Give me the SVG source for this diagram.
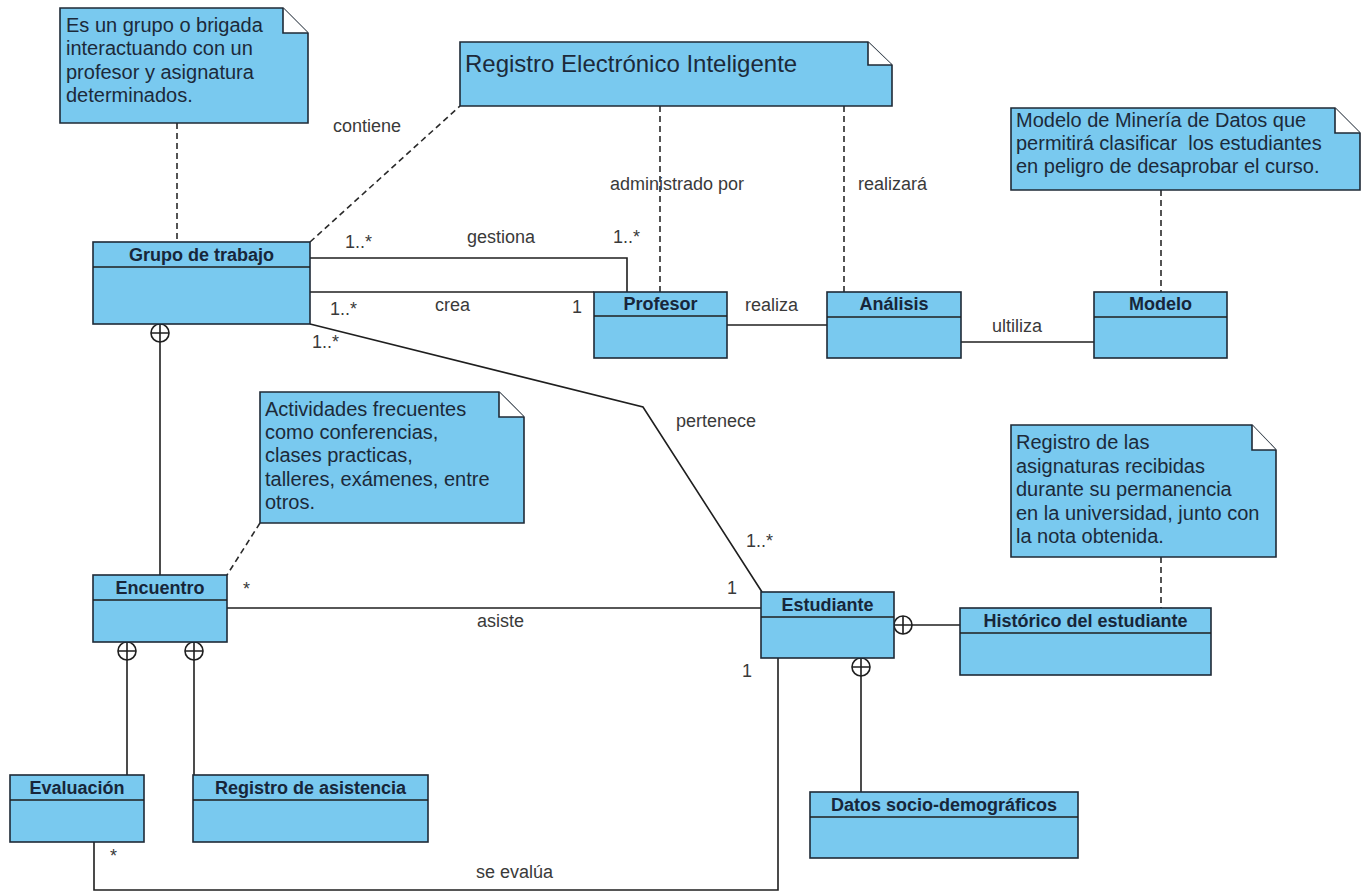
<svg xmlns="http://www.w3.org/2000/svg" width="1367" height="892" viewBox="0 0 1367 892">
<style>
.cls{fill:#79c9ef;stroke:#1f2a36;stroke-width:1.6}
.note{fill:#79c9ef;stroke:#1f2a36;stroke-width:1.6}
.fold{fill:#ffffff;stroke:#1f2a36;stroke-width:1.6}
.title{font-family:"Liberation Sans",Arial,sans-serif;font-weight:bold;font-size:18px;fill:#17263a;text-anchor:middle}
.ntext{font-family:"Liberation Sans",Arial,sans-serif;font-size:20px;fill:#1c2a3a}
.lbl{font-family:"Liberation Sans",Arial,sans-serif;font-size:18px;fill:#3a3a3a}
.ln{fill:none;stroke:#1f1f1f;stroke-width:1.6}
.dash{fill:none;stroke:#2a2a2a;stroke-width:1.6;stroke-dasharray:6,4}
.circ{fill:#ffffff;stroke:#1f1f1f;stroke-width:1.6}
</style>
<rect width="1367" height="892" fill="#ffffff"/>

<g id="connectors">
<path class="dash" d="M177,123 V242"/>
<path class="dash" d="M310,242 L460,106"/>
<path class="dash" d="M660,106 V292"/>
<path class="dash" d="M844,106 V292"/>
<path class="dash" d="M1161,190 V292"/>
<path class="dash" d="M1161,557 V608"/>
<path class="dash" d="M260,523 L227,575"/>
<path class="ln" d="M310,258 H627 V292"/>
<path class="ln" d="M310,292 H594"/>
<path class="ln" d="M727,325 H827"/>
<path class="ln" d="M961,342 H1094"/>
<path class="ln" d="M310,324 L643,407 L762,592"/>
<path class="ln" d="M227,608 H762"/>
<path class="ln" d="M778,658 V890 H94 V842"/>
<g id="nest-grupo-encuentro">
<path class="ln" d="M160,342 V575"/>
<circle class="circ" cx="160" cy="333" r="9"/>
<path class="ln" d="M160,324 V342 M151,333 H169"/>
</g>
<g id="nest-encuentro-evaluacion">
<path class="ln" d="M127,660 V775"/>
<circle class="circ" cx="127" cy="651" r="9"/>
<path class="ln" d="M127,642 V660 M118,651 H136"/>
</g>
<g id="nest-encuentro-registro">
<path class="ln" d="M194,660 V775"/>
<circle class="circ" cx="194" cy="651" r="9"/>
<path class="ln" d="M194,642 V660 M185,651 H203"/>
</g>
<g id="nest-estudiante-historico">
<path class="ln" d="M912,625 H960"/>
<circle class="circ" cx="903" cy="625" r="9"/>
<path class="ln" d="M894,625 H912 M903,616 V634"/>
</g>
<g id="nest-estudiante-datos">
<path class="ln" d="M861,676 V792"/>
<circle class="circ" cx="861" cy="667" r="9"/>
<path class="ln" d="M861,658 V676 M852,667 H870"/>
</g>
<text class="lbl" x="333" y="132">contiene</text>
<text class="lbl" x="610" y="190">administrado por</text>
<text class="lbl" x="858" y="190">realizará</text>
<text class="lbl" x="467" y="243">gestiona</text>
<text class="lbl" x="345" y="248">1..*</text>
<text class="lbl" x="613" y="243">1..*</text>
<text class="lbl" x="435" y="311">crea</text>
<text class="lbl" x="330" y="315">1..*</text>
<text class="lbl" x="572" y="313">1</text>
<text class="lbl" x="745" y="311">realiza</text>
<text class="lbl" x="992" y="332">ultiliza</text>
<text class="lbl" x="312" y="348">1..*</text>
<text class="lbl" x="676" y="427">pertenece</text>
<text class="lbl" x="746" y="547">1..*</text>
<text class="lbl" x="243" y="595">*</text>
<text class="lbl" x="727" y="594">1</text>
<text class="lbl" x="477" y="627">asiste</text>
<text class="lbl" x="742" y="677">1</text>
<text class="lbl" x="110" y="862">*</text>
<text class="lbl" x="476" y="878">se evalúa</text>
</g>

<g id="note-grupo">
<path class="note" d="M60,8 H283 L308,33 V123 H60 Z"/>
<path class="fold" d="M283,8 V33 H308"/>
<text class="ntext" x="66" y="32">Es un grupo o brigada</text>
<text class="ntext" x="66" y="55">interactuando con un</text>
<text class="ntext" x="66" y="79">profesor y asignatura</text>
<text class="ntext" x="66" y="102">determinados.</text>
</g>

<g id="note-registro">
<path class="note" d="M460,42 H868 L892,65 V106 H460 Z"/>
<path class="fold" d="M868,42 V65 H892"/>
<text class="ntext" x="465" y="72" style="font-size:24px">Registro Electrónico Inteligente</text>
</g>

<g id="note-modelo">
<path class="note" d="M1011,108 H1335 L1360,133 V190 H1011 Z"/>
<path class="fold" d="M1335,108 V133 H1360"/>
<text class="ntext" x="1016" y="127">Modelo de Minería de Datos que</text>
<text class="ntext" x="1016" y="150" xml:space="preserve">permitirá clasificar  los estudiantes</text>
<text class="ntext" x="1016" y="173">en peligro de desaprobar el curso.</text>
</g>

<g id="note-actividades">
<path class="note" d="M260,392 H499 L524,417 V523 H260 Z"/>
<path class="fold" d="M499,392 V417 H524"/>
<text class="ntext" x="265" y="416">Actividades frecuentes</text>
<text class="ntext" x="265" y="439">como conferencias,</text>
<text class="ntext" x="265" y="462">clases practicas,</text>
<text class="ntext" x="265" y="486">talleres, exámenes, entre</text>
<text class="ntext" x="265" y="509">otros.</text>
</g>

<g id="note-historico">
<path class="note" d="M1011,425 H1252 L1276,450 V557 H1011 Z"/>
<path class="fold" d="M1252,425 V450 H1276"/>
<text class="ntext" x="1016" y="449">Registro de las</text>
<text class="ntext" x="1016" y="473">asignaturas recibidas</text>
<text class="ntext" x="1016" y="496">durante su permanencia</text>
<text class="ntext" x="1016" y="520">en la universidad, junto con</text>
<text class="ntext" x="1016" y="543">la nota obtenida.</text>
</g>

<g id="grupo-de-trabajo">
<rect class="cls" x="93" y="242" width="217" height="82"/>
<path class="ln" d="M93,267 H310"/>
<text class="title" x="201.5" y="261">Grupo de trabajo</text>
</g>

<g id="profesor">
<rect class="cls" x="594" y="292" width="133" height="66"/>
<path class="ln" d="M594,316 H727"/>
<text class="title" x="660.5" y="310">Profesor</text>
</g>

<g id="analisis">
<rect class="cls" x="827" y="292" width="134" height="66"/>
<path class="ln" d="M827,317 H961"/>
<text class="title" x="894" y="310">Análisis</text>
</g>

<g id="modelo">
<rect class="cls" x="1094" y="292" width="133" height="66"/>
<path class="ln" d="M1094,317 H1227"/>
<text class="title" x="1160.5" y="310">Modelo</text>
</g>

<g id="encuentro">
<rect class="cls" x="93" y="575" width="134" height="67"/>
<path class="ln" d="M93,600 H227"/>
<text class="title" x="160" y="594">Encuentro</text>
</g>

<g id="estudiante">
<rect class="cls" x="761" y="592" width="133" height="66"/>
<path class="ln" d="M761,617 H894"/>
<text class="title" x="827.5" y="611">Estudiante</text>
</g>

<g id="historico">
<rect class="cls" x="960" y="608" width="251" height="67"/>
<path class="ln" d="M960,633 H1211"/>
<text class="title" x="1085.5" y="627">Histórico del estudiante</text>
</g>

<g id="evaluacion">
<rect class="cls" x="10" y="775" width="134" height="67"/>
<path class="ln" d="M10,800 H144"/>
<text class="title" x="77" y="794">Evaluación</text>
</g>

<g id="registro-asistencia">
<rect class="cls" x="193" y="775" width="235" height="67"/>
<path class="ln" d="M193,800 H428"/>
<text class="title" x="310.5" y="794">Registro de asistencia</text>
</g>

<g id="datos-socio">
<rect class="cls" x="810" y="792" width="268" height="66"/>
<path class="ln" d="M810,817 H1078"/>
<text class="title" x="944" y="811">Datos socio-demográficos</text>
</g>
</svg>
